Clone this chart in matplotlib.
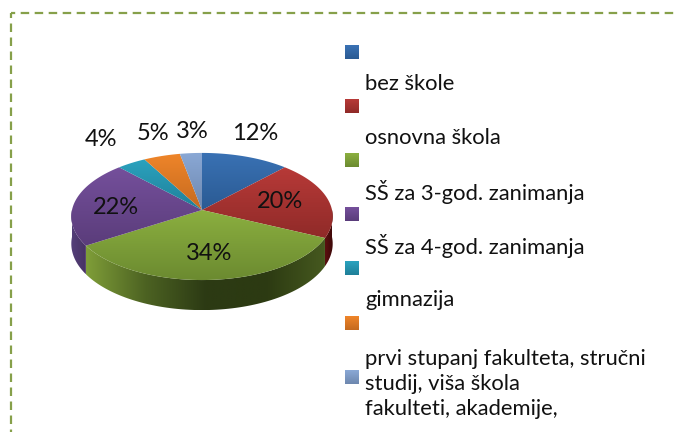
"""Tilted 3D pie of education levels, with the odd offset legend of the original."""
import numpy as np
import matplotlib
matplotlib.use("Agg")
import matplotlib.pyplot as plt
from matplotlib.patches import Polygon, Rectangle
from matplotlib.colors import LinearSegmentedColormap

plt.rcParams["font.family"] = ["Lato", "DejaVu Sans"]

shares = [12, 20, 34, 22, 4, 5, 3]
share_labels = ["12%", "20%", "34%", "22%", "4%", "5%", "3%"]
legend_labels = [
    "bez škole",
    "osnovna škola",
    "SŠ za 3-god. zanimanja",
    "SŠ za 4-god. zanimanja",
    "gimnazija",
    "prvi stupanj fakulteta, stručni\nstudij, viša škola\nfakulteti, akademije,",
]
# light, dark end of each slice's face gradient
face_colors = [
    ("#3a72b5", "#2a5a92"),
    ("#b83a38", "#8f2a28"),
    ("#8cb040", "#6b8a30"),
    ("#75509c", "#5a3c7a"),
    ("#2ba3bf", "#1f7f98"),
    ("#f0862a", "#c4691f"),
    ("#8ba9d6", "#6d87ae"),
]
side_colors = {
    0: ["#234a78", "#234a78"],
    1: ["#5c1010", "#3c0808"],
    2: ["#7f9e38", "#4c6222", "#2c3a14", "#2c3a12", "#46591f"],
    3: ["#54407a", "#483264"],
}

# pie geometry, in pixels of the 678x432 picture
CX, CY = 202, 210
R = 130
SQUASH = 62.9
PERSP = 0.102
DEPTH = 27


def project(angle):
    """Angle clockwise from 12 o'clock to picture x, y on the top face."""
    X, Y = np.sin(angle), np.cos(angle)
    w = 1 + PERSP * Y
    return CX + R * X / w, CY - SQUASH * Y / w


def drop(angle):
    return DEPTH / (1 + PERSP * np.cos(angle))


def fill_gradient(ax, patch, stops, box, horizontal=False):
    """Paint a gradient over box = (left, right, bottom, top), clipped to patch."""
    cmap = LinearSegmentedColormap.from_list("g", stops)
    grad = np.linspace(0, 1, 256)
    grad = grad.reshape(1, -1) if horizontal else grad.reshape(-1, 1)
    im = ax.imshow(grad, cmap=cmap, extent=box, aspect="auto", origin="upper",
                   zorder=patch.get_zorder())
    patch.set_facecolor("none")
    patch.set_edgecolor("none")
    ax.add_patch(patch)
    im.set_clip_path(patch)


fig = plt.figure(figsize=(6.78, 4.32), dpi=100)
ax = fig.add_axes([0, 0, 1, 1])
ax.set_axis_off()

fractions = np.array(shares) / sum(shares)
edges = np.concatenate([[0], np.cumsum(fractions)]) * 2 * np.pi

# side wall: only the front half of the rim is visible
for i in side_colors:
    a0, a1 = max(edges[i], np.pi / 2), min(edges[i + 1], 3 * np.pi / 2)
    if a1 <= a0:
        continue
    t = np.linspace(a0, a1, 80)
    x, y = project(t)
    low = y + drop(t)
    pts = np.column_stack([np.r_[x, x[::-1]], np.r_[y, low[::-1]]])
    poly = Polygon(pts, closed=True, zorder=2)
    fill_gradient(ax, poly, side_colors[i], (x.min(), x.max(), low.max(), y.min()), horizontal=True)

# top faces
for i, (c0, c1) in enumerate(face_colors):
    t = np.linspace(edges[i], edges[i + 1], 60)
    x, y = project(t)
    pts = np.column_stack([np.r_[CX, x], np.r_[CY, y]])
    poly = Polygon(pts, closed=True, zorder=3)
    box = (min(x.min(), CX) - 1, max(x.max(), CX) + 1, max(y.max(), CY) + 1, min(y.min(), CY) - 1)
    fill_gradient(ax, poly, [c0, c1], box)

# share labels, placed by hand like the original
label_xy = [(255, 133), (280, 202), (209, 253), (116, 207), (101, 139), (153, 133), (192, 131)]
for text, (lx, ly) in zip(share_labels, label_xy):
    ax.text(lx, ly, text, fontsize=17, color="#111111", ha="center", va="center", zorder=5)

# legend: swatches and text do not line up, as in the original
swatch_y = [52, 106, 160, 214, 268, 323, 377]
for (c0, c1), sy in zip(face_colors, swatch_y):
    r = Rectangle((345, sy - 7), 14, 14, zorder=2)
    fill_gradient(ax, r, [c0, c1], (345, 359, sy + 7, sy - 7))

text_y = [84, 138, 192, 246, 300]
for text, ty in zip(legend_labels[:5], text_y):
    ax.text(365, ty, text, fontsize=15.8, color="#111111", ha="left", va="center")
ax.text(365, 384, legend_labels[5], fontsize=15.8, color="#111111", ha="left", va="center", linespacing=1.3)

# dashed frame, left and top edges only
ax.plot([11, 11], [13, 432], color="#86a04a", lw=1.6, ls=(1.57, (3.82, 2.48)), zorder=1)
ax.plot([11, 678], [13, 13], color="#86a04a", lw=1.6, ls=(1.94, (3.82, 2.48)), zorder=1)

ax.set_xlim(0, 678)
ax.set_ylim(432, 0)
fig.savefig("out.png", dpi=100)
